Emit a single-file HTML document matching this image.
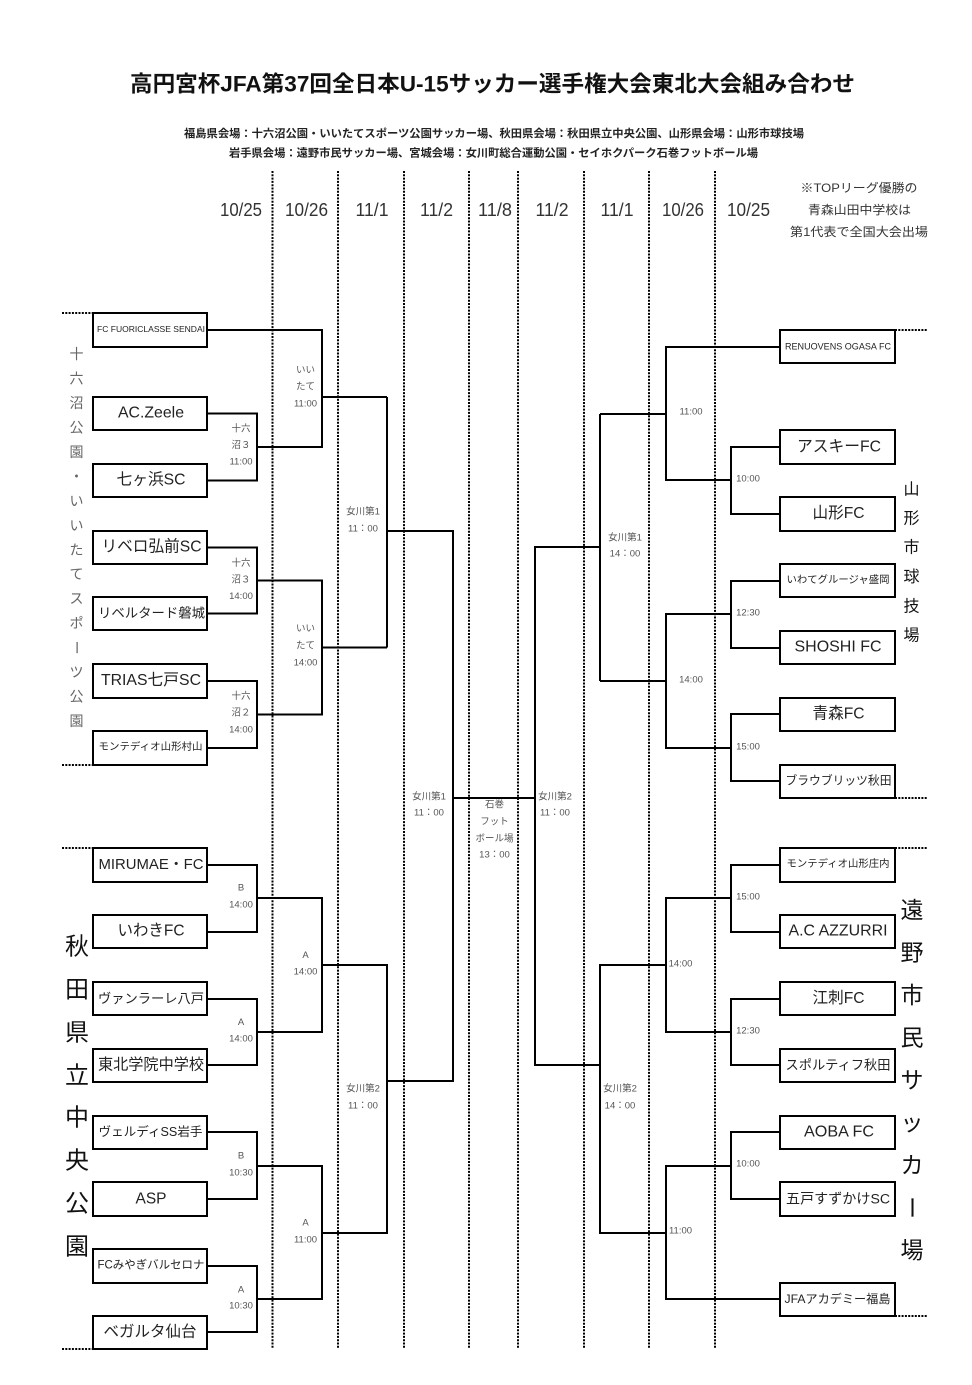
<!DOCTYPE html>
<html><head><meta charset="utf-8"><style>
html,body{margin:0;padding:0;background:#fff}
svg{display:block}
.ln{stroke:#000;stroke-width:2;fill:none}
.dot{stroke:#000;stroke-width:2;stroke-dasharray:2 1.3;fill:none}
.bx{fill:#fff;stroke:#000;stroke-width:2}
.lb{font-size:9.5px;fill:#555;text-anchor:middle;dominant-baseline:central}
.tm{fill:#222;text-anchor:middle;dominant-baseline:central}
.vt{fill:#666;font-size:14px;text-anchor:middle;dominant-baseline:central}
.vb{fill:#111;text-anchor:middle;dominant-baseline:central}
.dt{fill:#333;font-size:18px;text-anchor:middle;dominant-baseline:central}
</style></head><body>
<svg width="972" height="1385" viewBox="0 0 972 1385" xmlns="http://www.w3.org/2000/svg" font-family='"Liberation Sans","Noto Sans CJK JP",sans-serif'>
<rect width="972" height="1385" fill="#fff"/>
<!-- title -->
<text x="492.5" y="84" font-size="22" font-weight="bold" fill="#111" text-anchor="middle" dominant-baseline="central" textLength="725" lengthAdjust="spacingAndGlyphs">高円宮杯JFA第37回全日本U-15サッカー選手権大会東北大会組み合わせ</text>
<text x="494" y="134" font-size="11" font-weight="bold" fill="#222" text-anchor="middle" dominant-baseline="central" textLength="620" lengthAdjust="spacingAndGlyphs">福島県会場：十六沼公園・いいたてスポーツ公園サッカー場、秋田県会場：秋田県立中央公園、山形県会場：山形市球技場</text>
<text x="493.5" y="153.5" font-size="11" font-weight="bold" fill="#222" text-anchor="middle" dominant-baseline="central" textLength="529" lengthAdjust="spacingAndGlyphs">岩手県会場：遠野市民サッカー場、宮城会場：女川町総合運動公園・セイホクパーク石巻フットボール場</text>

<!-- note -->
<text x="859" y="188" font-size="12" fill="#333" text-anchor="middle" dominant-baseline="central" textLength="117" lengthAdjust="spacingAndGlyphs">※TOPリーグ優勝の</text>
<text x="859.5" y="210" font-size="12" fill="#333" text-anchor="middle" dominant-baseline="central" textLength="103" lengthAdjust="spacingAndGlyphs">青森山田中学校は</text>
<text x="859" y="232" font-size="12" fill="#333" text-anchor="middle" dominant-baseline="central" textLength="138" lengthAdjust="spacingAndGlyphs">第1代表で全国大会出場</text>

<!-- dates -->
<text class="dt" x="241" y="210" textLength="42" lengthAdjust="spacingAndGlyphs">10/25</text>
<text class="dt" x="306.5" y="210" textLength="43" lengthAdjust="spacingAndGlyphs">10/26</text>
<text class="dt" x="372" y="210" textLength="33" lengthAdjust="spacingAndGlyphs">11/1</text>
<text class="dt" x="436.5" y="210" textLength="33" lengthAdjust="spacingAndGlyphs">11/2</text>
<text class="dt" x="495" y="210" textLength="34" lengthAdjust="spacingAndGlyphs">11/8</text>
<text class="dt" x="552" y="210" textLength="33" lengthAdjust="spacingAndGlyphs">11/2</text>
<text class="dt" x="617" y="210" textLength="33" lengthAdjust="spacingAndGlyphs">11/1</text>
<text class="dt" x="683" y="210" textLength="42" lengthAdjust="spacingAndGlyphs">10/26</text>
<text class="dt" x="748.5" y="210" textLength="43" lengthAdjust="spacingAndGlyphs">10/25</text>

<!-- dotted verticals -->
<path class="dot" d="M272.5 171V1348M338 171V1348M404 171V1348M469 171V1348M518 171V1348M584 171V1348M649 171V1348M715 171V1348"/>
<!-- dotted horizontals -->
<path class="dot" d="M62 313H93M62 765H93M62 848H93M62 1349H93M895 330H927M895 798H927M895 848H927M895 1316H927"/>

<!-- bracket lines -->
<path class="ln" d="
M207 330H322V447H257
M207 413.5H257V480.5H207
M322 397H387
M207 547.5H257V613.5H207
M257 580.5H322V714.5H257
M207 681H257V748H207
M322 647.5H387
M387 397V647.5
M387 531H453V1081H387
M453 798H535
M207 865H257V932H207
M257 898H322V1032H257
M207 999H257V1065H207
M322 965H387V1233H322
M207 1132H257V1199H207
M257 1166H322V1299H257
M207 1266H257V1332H207
M780 347H666V480H731
M780 447H731V514H780
M600 414H666
M780 581H731V648H780
M731 614H666V748H731
M780 714H731V781H780
M666 681H600
M600 414V681
M600 547H535V1065H600
M780 865H731V932H780
M731 898H666V1032H731
M780 999H731V1065H780
M666 965H600V1233H666
M780 1132H731V1199H780
M731 1166H666V1299H780
"/>

<!-- left boxes -->
<rect class="bx" x="93" y="313" width="114" height="34"/>
<rect class="bx" x="93" y="397" width="114" height="33"/>
<rect class="bx" x="93" y="464" width="114" height="33"/>
<rect class="bx" x="93" y="531" width="114" height="33"/>
<rect class="bx" x="93" y="597" width="114" height="33"/>
<rect class="bx" x="93" y="664" width="114" height="34"/>
<rect class="bx" x="93" y="731" width="114" height="34"/>
<rect class="bx" x="93" y="848" width="114" height="34"/>
<rect class="bx" x="93" y="915" width="114" height="33"/>
<rect class="bx" x="93" y="982" width="114" height="33"/>
<rect class="bx" x="93" y="1049" width="114" height="33"/>
<rect class="bx" x="93" y="1116" width="114" height="33"/>
<rect class="bx" x="93" y="1182" width="114" height="34"/>
<rect class="bx" x="93" y="1249" width="114" height="34"/>
<rect class="bx" x="93" y="1316" width="114" height="33"/>
<!-- right boxes -->
<rect class="bx" x="780" y="330" width="115" height="33"/>
<rect class="bx" x="780" y="430" width="115" height="34"/>
<rect class="bx" x="780" y="497" width="115" height="34"/>
<rect class="bx" x="780" y="564" width="115" height="33"/>
<rect class="bx" x="780" y="631" width="115" height="33"/>
<rect class="bx" x="780" y="698" width="115" height="33"/>
<rect class="bx" x="780" y="765" width="115" height="33"/>
<rect class="bx" x="780" y="848" width="115" height="34"/>
<rect class="bx" x="780" y="915" width="115" height="33"/>
<rect class="bx" x="780" y="982" width="115" height="33"/>
<rect class="bx" x="780" y="1049" width="115" height="33"/>
<rect class="bx" x="780" y="1116" width="115" height="33"/>
<rect class="bx" x="780" y="1182" width="115" height="34"/>
<rect class="bx" x="780" y="1283" width="115" height="33"/>

<!-- left team names -->
<text class="tm" x="151" y="329" font-size="8.5" fill="#333" textLength="108" lengthAdjust="spacingAndGlyphs">FC FUORICLASSE SENDAI</text>
<text class="tm" x="151" y="413" font-size="16" textLength="66" lengthAdjust="spacingAndGlyphs">AC.Zeele</text>
<text class="tm" x="151" y="480" font-size="16" textLength="69" lengthAdjust="spacingAndGlyphs">七ヶ浜SC</text>
<text class="tm" x="151.5" y="547" font-size="16" textLength="100" lengthAdjust="spacingAndGlyphs">リベロ弘前SC</text>
<text class="tm" x="151.5" y="613" font-size="13.3" textLength="107" lengthAdjust="spacingAndGlyphs">リベルタード磐城</text>
<text class="tm" x="151" y="680.5" font-size="16" textLength="100" lengthAdjust="spacingAndGlyphs">TRIAS七戸SC</text>
<text class="tm" x="150.5" y="747.5" font-size="10.4" textLength="104" lengthAdjust="spacingAndGlyphs">モンテディオ山形村山</text>
<text class="tm" x="151" y="864.5" font-size="15" textLength="105" lengthAdjust="spacingAndGlyphs">MIRUMAE・FC</text>
<text class="tm" x="151" y="931" font-size="16" textLength="67" lengthAdjust="spacingAndGlyphs">いわきFC</text>
<text class="tm" x="151" y="998.5" font-size="13.2" textLength="106" lengthAdjust="spacingAndGlyphs">ヴァンラーレ八戸</text>
<text class="tm" x="151" y="1065" font-size="15.2" textLength="106" lengthAdjust="spacingAndGlyphs">東北学院中学校</text>
<text class="tm" x="150.5" y="1132" font-size="12.5" textLength="104" lengthAdjust="spacingAndGlyphs">ヴェルディSS岩手</text>
<text class="tm" x="151" y="1199" font-size="16" textLength="31" lengthAdjust="spacingAndGlyphs">ASP</text>
<text class="tm" x="151" y="1265.5" font-size="11.5" textLength="107" lengthAdjust="spacingAndGlyphs">FCみやぎバルセロナ</text>
<text class="tm" x="150" y="1332" font-size="15.5" textLength="93" lengthAdjust="spacingAndGlyphs">ベガルタ仙台</text>

<!-- right team names -->
<text class="tm" x="838" y="346.5" font-size="9" fill="#333" textLength="106" lengthAdjust="spacingAndGlyphs">RENUOVENS OGASA FC</text>
<text class="tm" x="839" y="447" font-size="16" textLength="84" lengthAdjust="spacingAndGlyphs">アスキーFC</text>
<text class="tm" x="838.5" y="513.5" font-size="16" textLength="52" lengthAdjust="spacingAndGlyphs">山形FC</text>
<text class="tm" x="838" y="580.5" font-size="10.3" textLength="103" lengthAdjust="spacingAndGlyphs">いわてグルージャ盛岡</text>
<text class="tm" x="838" y="647" font-size="16" textLength="87" lengthAdjust="spacingAndGlyphs">SHOSHI FC</text>
<text class="tm" x="838.5" y="714" font-size="16" textLength="52" lengthAdjust="spacingAndGlyphs">青森FC</text>
<text class="tm" x="838.5" y="780.5" font-size="11.8" textLength="106" lengthAdjust="spacingAndGlyphs">ブラウブリッツ秋田</text>
<text class="tm" x="838" y="864.5" font-size="10.3" textLength="103" lengthAdjust="spacingAndGlyphs">モンテディオ山形庄内</text>
<text class="tm" x="838" y="931" font-size="16" textLength="99" lengthAdjust="spacingAndGlyphs">A.C AZZURRI</text>
<text class="tm" x="838.5" y="998.5" font-size="16" textLength="52" lengthAdjust="spacingAndGlyphs">江刺FC</text>
<text class="tm" x="838" y="1065" font-size="13.2" textLength="105" lengthAdjust="spacingAndGlyphs">スポルティフ秋田</text>
<text class="tm" x="839" y="1132" font-size="16" textLength="70" lengthAdjust="spacingAndGlyphs">AOBA FC</text>
<text class="tm" x="838" y="1198.5" font-size="14.1" textLength="104" lengthAdjust="spacingAndGlyphs">五戸すずかけSC</text>
<text class="tm" x="837.5" y="1299" font-size="12.1" textLength="106" lengthAdjust="spacingAndGlyphs">JFAアカデミー福島</text>

<!-- left labels -->
<text class="lb" x="241" y="429">十六</text>
<text class="lb" x="241" y="445.5">沼３</text>
<text class="lb" x="241" y="462">11:00</text>
<text class="lb" x="305.5" y="370.5">いい</text>
<text class="lb" x="305.5" y="387">たて</text>
<text class="lb" x="305.5" y="404">11:00</text>
<text class="lb" x="241" y="563.5">十六</text>
<text class="lb" x="241" y="580">沼３</text>
<text class="lb" x="241" y="596.5">14:00</text>
<text class="lb" x="241" y="696.5">十六</text>
<text class="lb" x="241" y="713">沼２</text>
<text class="lb" x="241" y="730">14:00</text>
<text class="lb" x="305.5" y="629">いい</text>
<text class="lb" x="305.5" y="646">たて</text>
<text class="lb" x="305.5" y="663">14:00</text>
<text class="lb" x="363" y="512">女川第1</text>
<text class="lb" x="363" y="529">11：00</text>

<text class="lb" x="241" y="888">B</text>
<text class="lb" x="241" y="905">14:00</text>
<text class="lb" x="241" y="1022.5">A</text>
<text class="lb" x="241" y="1039">14:00</text>
<text class="lb" x="305.5" y="955.5">A</text>
<text class="lb" x="305.5" y="972">14:00</text>
<text class="lb" x="363" y="1089">女川第2</text>
<text class="lb" x="363" y="1106">11：00</text>
<text class="lb" x="241" y="1156">B</text>
<text class="lb" x="241" y="1173">10:30</text>
<text class="lb" x="241" y="1290">A</text>
<text class="lb" x="241" y="1306">10:30</text>
<text class="lb" x="305.5" y="1223">A</text>
<text class="lb" x="305.5" y="1240">11:00</text>

<!-- center labels -->
<text class="lb" x="429" y="797">女川第1</text>
<text class="lb" x="429" y="813">11：00</text>
<text class="lb" x="494.5" y="805">石巻</text>
<text class="lb" x="494.5" y="822">フット</text>
<text class="lb" x="494.5" y="839">ボール場</text>
<text class="lb" x="494.5" y="855">13：00</text>
<text class="lb" x="555" y="797">女川第2</text>
<text class="lb" x="555" y="813">11：00</text>

<!-- right labels -->
<text class="lb" x="625" y="538">女川第1</text>
<text class="lb" x="625" y="554">14：00</text>
<text class="lb" x="691" y="412">11:00</text>
<text class="lb" x="748" y="479">10:00</text>
<text class="lb" x="748" y="613">12:30</text>
<text class="lb" x="691" y="680">14:00</text>
<text class="lb" x="748" y="747">15:00</text>
<text class="lb" x="748" y="897">15:00</text>
<text class="lb" x="680.5" y="964">14:00</text>
<text class="lb" x="748" y="1031">12:30</text>
<text class="lb" x="620" y="1089">女川第2</text>
<text class="lb" x="620" y="1106">14：00</text>
<text class="lb" x="748" y="1164">10:00</text>
<text class="lb" x="680.5" y="1231">11:00</text>

<!-- left vertical venue (十六沼公園・いいたてスポーツ公園) -->
<text class="vt" x="76.5" y="354">十</text>
<text class="vt" x="76.5" y="378.5">六</text>
<text class="vt" x="76.5" y="403">沼</text>
<text class="vt" x="76.5" y="427.4">公</text>
<text class="vt" x="76.5" y="451.9">園</text>
<text class="vt" x="76.5" y="476.4">・</text>
<text class="vt" x="76.5" y="500.8">い</text>
<text class="vt" x="76.5" y="525.3">い</text>
<text class="vt" x="76.5" y="549.8">た</text>
<text class="vt" x="76.5" y="574.2">て</text>
<text class="vt" x="76.5" y="598.7">ス</text>
<text class="vt" x="76.5" y="623.2">ポ</text>
<text class="vt" x="76.5" y="647.6" transform="rotate(90 76.5 647.6)">ー</text>
<text class="vt" x="76.5" y="672.1">ツ</text>
<text class="vt" x="76.5" y="696.6">公</text>
<text class="vt" x="76.5" y="721">園</text>

<!-- left vertical venue (秋田県立中央公園) -->
<text class="vb" font-size="24" x="77" y="947">秋</text>
<text class="vb" font-size="24" x="77" y="990">田</text>
<text class="vb" font-size="24" x="77" y="1033">県</text>
<text class="vb" font-size="24" x="77" y="1076">立</text>
<text class="vb" font-size="24" x="77" y="1118">中</text>
<text class="vb" font-size="24" x="77" y="1161">央</text>
<text class="vb" font-size="24" x="77" y="1204">公</text>
<text class="vb" font-size="24" x="77" y="1247">園</text>

<!-- right vertical venue (山形市球技場) -->
<text class="vb" font-size="16" x="911.5" y="490">山</text>
<text class="vb" font-size="16" x="911.5" y="519">形</text>
<text class="vb" font-size="16" x="911.5" y="548">市</text>
<text class="vb" font-size="16" x="911.5" y="577.5">球</text>
<text class="vb" font-size="16" x="911.5" y="607">技</text>
<text class="vb" font-size="16" x="911.5" y="636">場</text>

<!-- right vertical venue (遠野市民サッカー場) -->
<text class="vb" font-size="23" x="912" y="910">遠</text>
<text class="vb" font-size="23" x="912" y="952.5">野</text>
<text class="vb" font-size="23" x="912" y="995">市</text>
<text class="vb" font-size="23" x="912" y="1037.5">民</text>
<text class="vb" font-size="23" x="912" y="1080">サ</text>
<text class="vb" font-size="23" x="912" y="1122.5">ッ</text>
<text class="vb" font-size="23" x="912" y="1165">カ</text>
<text class="vb" font-size="23" x="912" y="1207.5" transform="rotate(90 912 1207.5)">ー</text>
<text class="vb" font-size="23" x="912" y="1250">場</text>
</svg>
</body></html>
